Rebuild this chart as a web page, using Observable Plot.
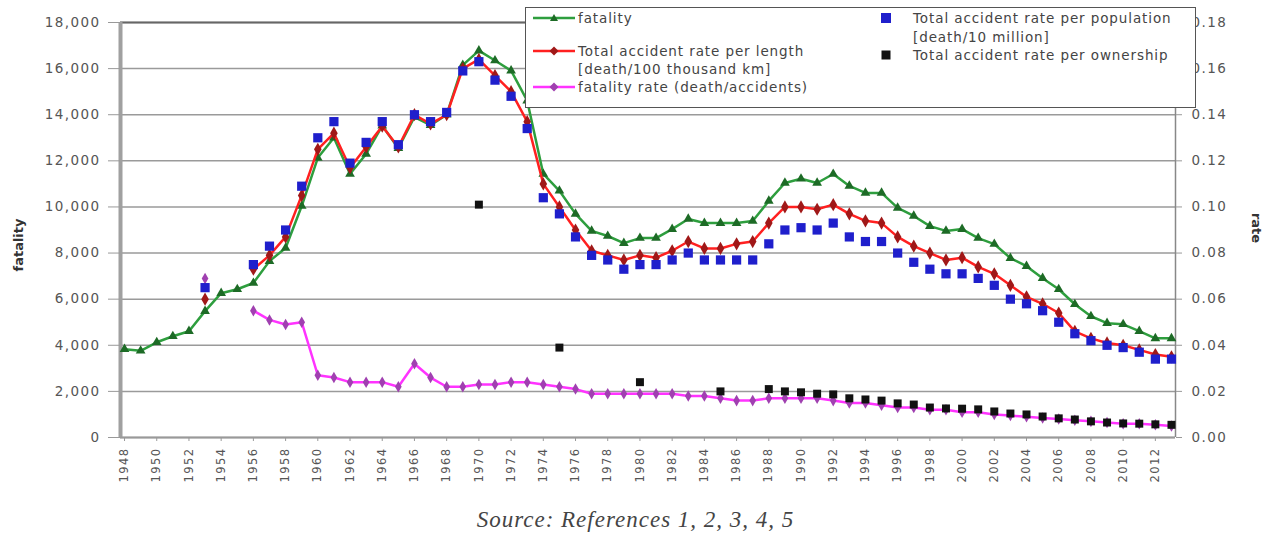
<!DOCTYPE html>
<html>
<head>
<meta charset="utf-8">
<script src="https://cdn.jsdelivr.net/npm/d3@7"></script>
<script src="https://cdn.jsdelivr.net/npm/@observablehq/plot@0.6"></script>
<style>
  body { margin: 0; background: #fff; }
  #wrap { position: relative; width: 1271px; height: 544px; font-family: "DejaVu Sans", sans-serif; }
  #legend { position: absolute; left: 525px; top: 7px; width: 671px; height: 101px; border: 1.5px solid #555; background: #fff; box-sizing: border-box; }
  .li { position: absolute; font-size: 13.5px; letter-spacing: 0.9px; color: #444; white-space: nowrap; line-height: 18px; }
  .sw { position: absolute; }
  #ytitle { position: absolute; left: 10px; top: 245px; transform: translate(-50%,-50%) rotate(-90deg); transform-origin: center; font-size: 13px; font-weight: bold; color: #333; margin-left: 8px; }
  #y2title { position: absolute; left: 1256px; top: 228px; transform: translate(-50%,-50%) rotate(90deg); font-size: 13px; font-weight: bold; color: #333; }
  #caption { position: absolute; left: 0; width: 1271px; top: 507px; text-align: center; font-family: "Liberation Serif", serif; font-style: italic; font-size: 23px; color: #444; letter-spacing: 1px; }
</style>
</head>
<body>
<div id="wrap"></div>
<script>
const years = [1948,1949,1950,1951,1952,1953,1954,1955,1956,1957,1958,1959,1960,1961,1962,1963,1964,1965,1966,1967,1968,1969,1970,1971,1972,1973,1974,1975,1976,1977,1978,1979,1980,1981,1982,1983,1984,1985,1986,1987,1988,1989,1990,1991,1992,1993,1994,1995,1996,1997,1998,1999,2000,2001,2002,2003,2004,2005,2006,2007,2008,2009,2010,2011,2012,2013];

// fatality (left axis, persons)
const fatality = [3830,3760,4130,4390,4610,5480,6260,6430,6700,7650,8220,10040,12130,13000,11430,12300,13520,12550,13900,13550,14000,16150,16780,16350,15910,14610,11430,10700,9700,8960,8740,8430,8650,8650,9040,9480,9300,9300,9300,9390,10260,11040,11220,11040,11430,10910,10610,10610,9960,9610,9170,8960,9040,8650,8390,7780,7430,6910,6430,5780,5260,4960,4910,4610,4300,4300];

// rates (right axis)
const ratePerLength = [null,null,null,null,null,0.060,null,null,0.073,0.079,0.087,0.105,0.125,0.132,0.117,0.126,0.135,0.126,0.140,0.136,0.140,0.160,0.164,0.157,0.150,0.137,0.110,0.100,0.090,0.081,0.079,0.077,0.079,0.078,0.081,0.085,0.082,0.082,0.084,0.085,0.093,0.100,0.100,0.099,0.101,0.097,0.094,0.093,0.087,0.083,0.080,0.077,0.078,0.074,0.071,0.066,0.061,0.058,0.054,0.046,0.043,0.041,0.040,0.038,0.036,0.035];

const ratePerPopulation = [null,null,null,null,null,0.065,null,null,0.075,0.083,0.090,0.109,0.130,0.137,0.119,0.128,0.137,0.127,0.140,0.137,0.141,0.159,0.163,0.155,0.148,0.134,0.104,0.097,0.087,0.079,0.077,0.073,0.075,0.075,0.077,0.080,0.077,0.077,0.077,0.077,0.084,0.090,0.091,0.090,0.093,0.087,0.085,0.085,0.080,0.076,0.073,0.071,0.071,0.069,0.066,0.060,0.058,0.055,0.050,0.045,0.042,0.040,0.039,0.037,0.034,0.034];

const fatalityRate = [null,null,null,null,null,0.069,null,null,0.055,0.051,0.049,0.050,0.027,0.026,0.024,0.024,0.024,0.022,0.032,0.026,0.022,0.022,0.023,0.023,0.024,0.024,0.023,0.022,0.021,0.019,0.019,0.019,0.019,0.019,0.019,0.018,0.018,0.017,0.016,0.016,0.017,0.017,0.017,0.017,0.016,0.015,0.015,0.014,0.013,0.013,0.012,0.012,0.011,0.011,0.010,0.0095,0.009,0.0085,0.008,0.0075,0.007,0.0065,0.006,0.006,0.0055,0.005];

const ownershipYears = [1970,1975,1980,1985,1988,1989,1990,1991,1992,1993,1994,1995,1996,1997,1998,1999,2000,2001,2002,2003,2004,2005,2006,2007,2008,2009,2010,2011,2012,2013];
const ratePerOwnership = [0.101,0.039,0.024,0.020,0.021,0.020,0.0196,0.019,0.0187,0.017,0.0165,0.016,0.0148,0.0143,0.013,0.0126,0.0125,0.0122,0.0113,0.0104,0.010,0.0091,0.0083,0.0078,0.007,0.0065,0.0061,0.006,0.0057,0.0055];

const yTicks = [0,2000,4000,6000,8000,10000,12000,14000,16000,18000];
const xTicks = [1948,1950,1952,1954,1956,1958,1960,1962,1964,1966,1968,1970,1972,1974,1976,1978,1980,1982,1984,1986,1988,1990,1992,1994,1996,1998,2000,2002,2004,2006,2008,2010,2012];

const legendLabels = {
  fatality: "fatality",
  length1: "Total accident rate per length",
  length2: "[death/100 thousand km]",
  frate: "fatality rate (death/accidents)",
  pop1: "Total accident rate per population",
  pop2: "[death/10 million]",
  own: "Total accident rate per ownership"
};
const captionText = "Source: References 1, 2, 3, 4, 5";

const colors = {
  green: "#2e9e3e", greenMark: "#1d6b26",
  red: "#ff2020", redMark: "#a01818",
  magenta: "#ff33ff", magentaMark: "#a040b0",
  blue: "#1f1fcc", black: "#111111"
};

// right axis = left axis / 100000
const K = 100000;
const rows = years.map((yr, i) => ({
  year: yr,
  fatality: fatality[i],
  length: ratePerLength[i] == null ? null : ratePerLength[i] * K,
  pop: ratePerPopulation[i] == null ? null : ratePerPopulation[i] * K,
  frate: fatalityRate[i] == null ? null : fatalityRate[i] * K
}));
const own = ownershipYears.map((yr, i) => ({year: yr, v: ratePerOwnership[i] * K}));

const x0 = 1947.75, x1 = 2013.25;

const chart = Plot.plot({
  width: 1271,
  height: 500,
  marginLeft: 120,
  marginRight: 96,
  marginTop: 22,
  marginBottom: 63,
  style: { fontFamily: "DejaVu Sans, sans-serif", color: "#555", background: "#fff", letterSpacing: "1.4px" },
  x: { domain: [x0, x1] },
  y: { domain: [0, 18000] },
  marks: [
    Plot.gridY(yTicks, { stroke: "#9a9a9a", strokeOpacity: 1, strokeWidth: 1.5 }),
    Plot.ruleY([18000], { stroke: "#666", strokeWidth: 2 }),
    Plot.ruleX([x1], { stroke: "#888", strokeWidth: 1.5 }),
    Plot.ruleX([x0], { stroke: "#a0a0a0", strokeWidth: 4 }),
    Plot.ruleY([0], { stroke: "#999", strokeWidth: 2 }),
    Plot.axisY({ anchor: "left", ticks: yTicks, tickFormat: d3.format(","), tickSize: 12, tickPadding: 8, fontSize: 13.5, label: null, stroke: "#999" }),
    Plot.axisY({ anchor: "right", ticks: yTicks, tickFormat: d => (d / K).toFixed(2), tickSize: 6, tickPadding: 10, fontSize: 13.5, label: null, stroke: "#999" }),
    Plot.axisX({ ticks: xTicks, tickFormat: d => String(d), tickRotate: -90, tickSize: 4, tickPadding: 6, fontSize: 11.5, label: null, stroke: "#999" }),
    // fatality
    Plot.line(rows, { x: "year", y: "fatality", stroke: colors.green, strokeWidth: 2.5 }),
    Plot.dot(rows, { x: "year", y: "fatality", symbol: "triangle", r: 3.6, fill: colors.greenMark, stroke: "none" }),
    // rate per length
    Plot.line(rows, { x: "year", y: "length", stroke: colors.red, strokeWidth: 2.5 }),
    Plot.dot(rows, { x: "year", y: "length", symbol: "diamond", r: 4, fill: colors.redMark, stroke: "none" }),
    // fatality rate
    Plot.line(rows, { x: "year", y: "frate", stroke: colors.magenta, strokeWidth: 2.5 }),
    Plot.dot(rows, { x: "year", y: "frate", symbol: "diamond", r: 3.5, fill: colors.magentaMark, stroke: "none" }),
    // rate per population
    Plot.dot(rows, { x: "year", y: "pop", symbol: "square", r: 5.2, fill: colors.blue, stroke: "none" }),
    // rate per ownership
    Plot.dot(own, { x: "year", y: "v", symbol: "square", r: 4.5, fill: colors.black, stroke: "none" })
  ]
});

const wrap = document.getElementById("wrap");
wrap.appendChild(chart);

// axis titles
const yt = document.createElement("div"); yt.id = "ytitle"; yt.textContent = "fatality"; wrap.appendChild(yt);
const y2t = document.createElement("div"); y2t.id = "y2title"; y2t.textContent = "rate"; wrap.appendChild(y2t);

// legend
const leg = document.createElement("div"); leg.id = "legend"; wrap.appendChild(leg);
function swatch(left, top, lineColor, markColor, shape, size) {
  const s = document.createElementNS("http://www.w3.org/2000/svg", "svg");
  s.setAttribute("width", 46); s.setAttribute("height", 14);
  s.setAttribute("class", "sw");
  s.style.left = left + "px"; s.style.top = top + "px";
  let h = "";
  if (lineColor) h += `<line x1="2" y1="7" x2="44" y2="7" stroke="${lineColor}" stroke-width="2.5"/>`;
  if (shape === "tri") h += `<path d="M23,3 L27,10 L19,10 Z" fill="${markColor}"/>`;
  if (shape === "dia") h += `<path d="M23,2.5 L27.5,7 L23,11.5 L18.5,7 Z" fill="${markColor}"/>`;
  if (shape === "sq") h += `<rect x="${23 - size / 2}" y="${7 - size / 2}" width="${size}" height="${size}" fill="${markColor}"/>`;
  s.innerHTML = h;
  leg.appendChild(s);
}
function label(left, top, text) {
  const d = document.createElement("div"); d.className = "li";
  d.style.left = left + "px"; d.style.top = top + "px"; d.textContent = text;
  leg.appendChild(d);
}
swatch(5, 3, colors.green, colors.greenMark, "tri");
label(52, 1, legendLabels.fatality);
swatch(5, 36, colors.red, colors.redMark, "dia");
label(52, 34, legendLabels.length1);
label(52, 52, legendLabels.length2);
swatch(5, 72, colors.magenta, colors.magentaMark, "dia");
label(52, 70, legendLabels.frate);
swatch(337, 3, null, colors.blue, "sq", 10);
label(387, 1, legendLabels.pop1);
label(387, 20, legendLabels.pop2);
swatch(337, 40, null, colors.black, "sq", 9);
label(387, 38, legendLabels.own);

// caption
const cap = document.createElement("div"); cap.id = "caption"; cap.textContent = captionText; wrap.appendChild(cap);
</script>
</body>
</html>
